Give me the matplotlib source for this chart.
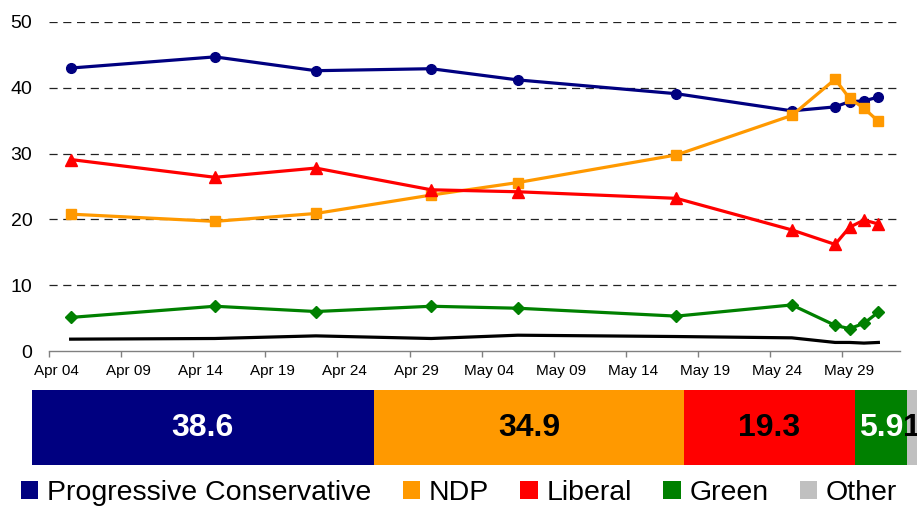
"""Poll tracker: line chart of party support plus a stacked bar of the latest average."""
import matplotlib
matplotlib.use("Agg")
import matplotlib.pyplot as plt
import matplotlib.dates as mdates
import numpy as np
import pandas as pd
from matplotlib.patches import Patch

plt.rcParams["font.family"] = ["Liberation Sans", "DejaVu Sans"]

# poll dates, values in %
poll_dates = ["2018-04-05", "2018-04-15", "2018-04-22", "2018-04-30", "2018-05-06",
              "2018-05-17", "2018-05-25", "2018-05-28", "2018-05-29", "2018-05-30", "2018-05-31"]
pc = [43.0, 44.7, 42.6, 42.9, 41.2, 39.1, 36.5, 37.1, 37.9, 38.0, 38.6]
ndp = [20.8, 19.7, 20.9, 23.7, 25.6, 29.8, 35.8, 41.3, 38.4, 36.9, 34.9]
liberal = [29.1, 26.4, 27.8, 24.5, 24.2, 23.2, 18.4, 16.2, 18.8, 19.9, 19.3]
green = [5.1, 6.8, 6.0, 6.8, 6.5, 5.3, 7.0, 3.9, 3.4, 4.2, 5.9]
other = [1.8, 1.9, 2.3, 1.9, 2.4, 2.2, 2.0, 1.3, 1.3, 1.2, 1.3]

parties = ["Progressive Conservative", "NDP", "Liberal", "Green", "Other"]
latest = [38.6, 34.9, 19.3, 5.9, 1.3]

NAVY = "#000080"; ORANGE = "#FF9900"; RED = "#FF0000"; GREEN = "#008000"; GREY = "#C0C0C0"
colors = [NAVY, ORANGE, RED, GREEN, GREY]
label_colors = ["white", "black", "black", "white", "black"]

W, H = 917, 508
fig = plt.figure(figsize=(W / 100, H / 100), dpi=100)
fig.patch.set_facecolor("white")

# ---- line chart ----
ax = fig.add_axes([49 / W, 1 - 351 / H, (900 - 49) / W, (351 - 22) / H])
x = pd.to_datetime(poll_dates) + pd.Timedelta(hours=12)  # points sit mid-day
lw = 2.3
ax.plot(x, pc, color=NAVY, lw=lw, marker="o", ms=7, zorder=3)
ax.plot(x, ndp, color=ORANGE, lw=lw, marker="s", ms=7, zorder=4)
ax.plot(x, liberal, color=RED, lw=lw, marker="^", ms=8.5, zorder=5)
ax.plot(x, green, color=GREEN, lw=lw, marker="D", ms=6.5, zorder=6)
ax.plot(x, other, color="black", lw=lw, zorder=7)

ax.set_ylim(0, 50)
ax.set_yticks(range(0, 51, 10))
ax.set_xlim(pd.Timestamp("2018-04-04"), pd.Timestamp("2018-06-02"))
ax.yaxis.grid(True, color="#222222", lw=0.9, ls=(0, (6.5, 4.5)))
ax.yaxis.get_gridlines()[0].set_visible(False)
ax.set_axisbelow(True)

ticks = pd.date_range("2018-04-04", "2018-05-29", freq="5D")
ax.set_xticks(ticks)
ax.set_xticklabels([])
ax.set_xticks(ticks + pd.Timedelta(hours=12), minor=True)
ax.xaxis.set_minor_formatter(mdates.DateFormatter("%b %d"))
ax.tick_params(axis="x", which="major", direction="out", length=4, color="#808080", width=1)
ax.tick_params(axis="x", which="minor", length=0, pad=9, labelsize=11)
ax.tick_params(axis="y", length=0, pad=12, labelsize=14)

for s in ("top", "right", "left"):
    ax.spines[s].set_visible(False)
ax.spines["bottom"].set_color("#808080")
ax.spines["bottom"].set_linewidth(1)

# ---- stacked bar of latest average ----
bx = fig.add_axes([31.7 / W, 1 - 465 / H, 1 - 31.7 / W, 75 / H])
lefts = np.concatenate([[0], np.cumsum(latest)[:-1]])
bx.barh(0, latest, left=lefts, color=colors, height=1)
for i, (val, lft, tc) in enumerate(zip(latest, lefts, label_colors)):
    if i == len(latest) - 1:
        # "Other" label does not fit; it spills past the right edge as in the source
        bx.text(lft - 0.5, 0, f"{val}", ha="left", va="center", color=tc,
                fontsize=23, fontweight="bold")
    else:
        bx.text(lft + val / 2, 0, f"{val}", ha="center", va="center", color=tc,
                fontsize=23, fontweight="bold")
bx.set_xlim(0, (W - 31.7) / 8.87)
bx.set_ylim(-0.5, 0.5)
bx.axis("off")

# ---- legend ----
handles = [Patch(facecolor=c, edgecolor="none") for c in colors]
fig.legend(handles, parties, loc="center", bbox_to_anchor=(459 / W, 1 - 493 / H),
           ncol=5, frameon=False, fontsize=20.5, handlelength=0.62, handleheight=0.62,
           handletextpad=0.3, columnspacing=1.1, borderaxespad=0, borderpad=0)

fig.savefig("out.png", dpi=100, facecolor="white")
